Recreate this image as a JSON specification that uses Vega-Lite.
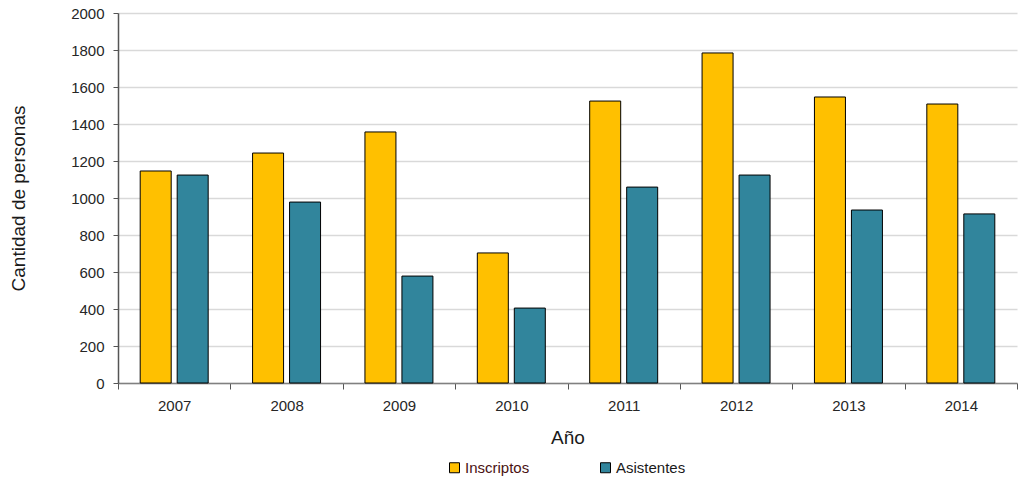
{
  "$schema": "https://vega.github.io/schema/vega-lite/v6.json",
  "width": 899,
  "height": 370,
  "autosize": {"type": "none"},
  "padding": {"left": 118, "top": 13, "right": 2, "bottom": 96},
  "background": "white",
  "config": {
    "view": {"stroke": null},
    "font": "Liberation Sans",
    "axis": {"labelFont": "Liberation Sans", "titleFont": "Liberation Sans", "labelColor": "#262626", "titleColor": "#1a1a1a", "titleFontWeight": "normal"}
  },
  "data": {
    "values": [
      {"year": "2007", "serie": "Inscriptos", "value": 1146},
      {"year": "2007", "serie": "Asistentes", "value": 1124},
      {"year": "2008", "serie": "Inscriptos", "value": 1243},
      {"year": "2008", "serie": "Asistentes", "value": 978},
      {"year": "2009", "serie": "Inscriptos", "value": 1357},
      {"year": "2009", "serie": "Asistentes", "value": 578},
      {"year": "2010", "serie": "Inscriptos", "value": 703},
      {"year": "2010", "serie": "Asistentes", "value": 405},
      {"year": "2011", "serie": "Inscriptos", "value": 1524},
      {"year": "2011", "serie": "Asistentes", "value": 1059},
      {"year": "2012", "serie": "Inscriptos", "value": 1784},
      {"year": "2012", "serie": "Asistentes", "value": 1124},
      {"year": "2013", "serie": "Inscriptos", "value": 1546},
      {"year": "2013", "serie": "Asistentes", "value": 935},
      {"year": "2014", "serie": "Inscriptos", "value": 1508},
      {"year": "2014", "serie": "Asistentes", "value": 914}
    ]
  },
  "mark": {"type": "bar", "stroke": "#000000", "strokeWidth": 1},
  "encoding": {
    "x": {
      "field": "year",
      "type": "nominal",
      "scale": {"paddingInner": 0, "paddingOuter": 0},
      "axis": {
        "title": "Año",
        "titleFontSize": 19,
        "titlePadding": 15,
        "labelFontSize": 15,
        "labelAngle": 0,
        "labelPadding": 9,
        "tickBand": "extent",
        "tickSize": 6,
        "tickColor": "#555555",
        "domainColor": "#808080",
        "domainWidth": 1.5,
        "grid": false
      }
    },
    "xOffset": {
      "field": "serie",
      "type": "nominal",
      "sort": ["Inscriptos", "Asistentes"],
      "scale": {"paddingInner": 0.162, "paddingOuter": 0.6}
    },
    "y": {
      "field": "value",
      "type": "quantitative",
      "scale": {"domain": [0, 2000], "nice": false},
      "axis": {
        "title": "Cantidad de personas",
        "titleFontSize": 19,
        "titlePadding": 42,
        "labelFontSize": 15,
        "labelPadding": 9,
        "format": "d",
        "labelOverlap": false,
        "values": [0, 200, 400, 600, 800, 1000, 1200, 1400, 1600, 1800, 2000],
        "tickSize": 5,
        "tickColor": "#555555",
        "domainColor": "#555555",
        "domainWidth": 1.5,
        "grid": true,
        "gridColor": "#d9d9d9",
        "gridWidth": 1.5
      }
    },
    "color": {
      "field": "serie",
      "type": "nominal",
      "sort": ["Inscriptos", "Asistentes"],
      "scale": {"domain": ["Inscriptos", "Asistentes"], "range": ["#FFC000", "#31859C"]},
      "legend": {
        "title": null,
        "orient": "none",
        "direction": "horizontal",
        "legendX": 329,
        "legendY": 447,
        "symbolType": "square",
        "symbolSize": 100,
        "symbolStrokeColor": "#000000",
        "symbolStrokeWidth": 1,
        "labelFontSize": 15,
        "labelFont": "Liberation Sans",
        "labelOffset": 3,
        "columnPadding": 68,
        "labelColor": "#1a1a1a",
        "encode": {
          "labels": {"update": {"fill": {"signal": "datum.label == 'Inscriptos' ? '#4a1212' : '#1a1a1a'"}}}
        }
      }
    }
  }
}
